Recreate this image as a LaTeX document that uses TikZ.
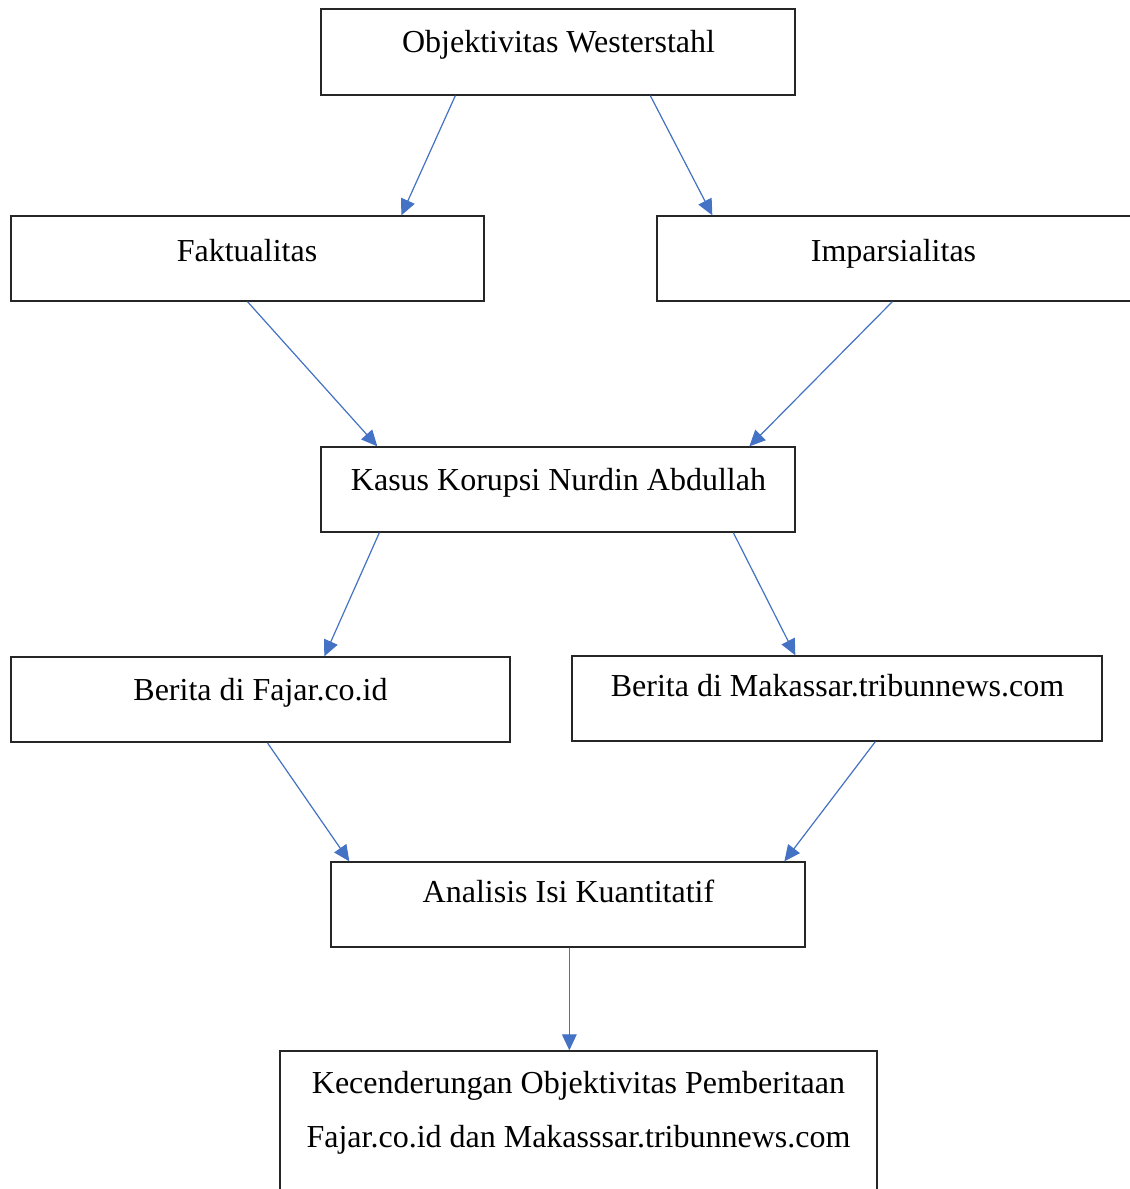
\documentclass[tikz,border=0pt]{standalone}
\usepackage{fontspec}
\setmainfont{Liberation Serif}
\usetikzlibrary{arrows.meta,calc}
\begin{document}
\begin{tikzpicture}[x=0.75pt,y=-0.75pt,
  box/.style={draw=black!85,line width=1pt,inner sep=0pt,fill=none},
  txt/.style={inner sep=0pt,anchor=base,font=\fontsize{24}{28}\selectfont},
  conn/.style={draw={rgb,255:red,68;green,114;blue,196},line width=0.9pt,
    -{Triangle[length=12pt,width=11pt]},fill={rgb,255:red,68;green,114;blue,196}}]
\useasboundingbox (0,0) rectangle (1130,1189);
\clip (0,0) rectangle (1130,1189);
% boxes
\node[box,minimum width=474*0.75pt,minimum height=86*0.75pt] (obj) at (558,52) {};
\node[box,minimum width=473*0.75pt,minimum height=85*0.75pt] (fak) at (247.5,258.5) {};
\node[box,minimum width=490*0.75pt,minimum height=85*0.75pt] (imp) at (902,258.5) {};
\node[box,minimum width=474*0.75pt,minimum height=85*0.75pt] (kas) at (558,489.5) {};
\node[box,minimum width=499*0.75pt,minimum height=85*0.75pt] (faj) at (260.5,699.5) {};
\node[box,minimum width=530*0.75pt,minimum height=85*0.75pt] (mak) at (837,698.5) {};
\node[box,minimum width=474*0.75pt,minimum height=85*0.75pt] (ana) at (568,904.5) {};
\node[box,minimum width=597*0.75pt,minimum height=160*0.75pt] (kec) at (578.5,1131) {};
% texts
\node[txt] (objt) at (558.5,52) {Objektivitas Westerstahl};
\node[txt] (fakt) at (247,261) {Faktualitas};
\node[txt] (impt) at (893.5,261) {Imparsialitas};
\node[txt] (kast) at (558.5,490) {Kasus Korupsi Nurdin Abdullah};
\node[txt] (fajt) at (260.5,700) {Berita di Fajar.co.id};
\node[txt] (makt) at (837.5,696) {Berita di Makassar.tribunnews.com};
\node[txt] (anat) at (568.5,902) {Analisis Isi Kuantitatif};
\node[txt] (kect1) at (578.5,1093) {Kecenderungan Objektivitas Pemberitaan};
\node[txt] (kect2) at (578.5,1147) {Fajar.co.id dan Makasssar.tribunnews.com};
% connectors
\draw[conn] ($(obj.south west)+(135,0)$) -- ($(fak.north west)+(391,0)$);
\draw[conn] ($(obj.south west)+(330,0)$) -- ($(imp.north west)+(56,0)$);
\draw[conn] (fak.south) -- ($(kas.north west)+(57,0)$);
\draw[conn] ($(imp.south west)+(236,0)$) -- ($(kas.north west)+(429,0)$);
\draw[conn] ($(kas.south west)+(59,0)$) -- ($(faj.north west)+(314,0)$);
\draw[conn] ($(kas.south west)+(413,0)$) -- ($(mak.north west)+(224,0)$);
\draw[conn] ($(faj.south west)+(257,0)$) -- ($(ana.north west)+(19,0)$);
\draw[conn] ($(mak.south west)+(304,0)$) -- ($(ana.north west)+(454,0)$);
\draw[conn] ($(ana.south west)+(239,0)$) -- ($(kec.north west)+(290,0)$);
\end{tikzpicture}
\end{document}
